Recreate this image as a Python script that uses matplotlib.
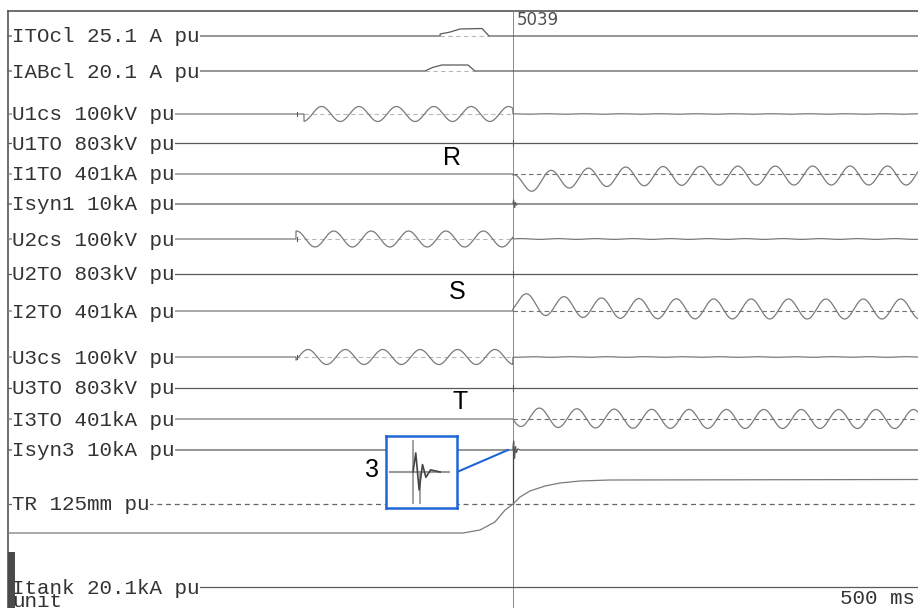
import numpy as np
import matplotlib.pyplot as plt

# channel names printed on the recorder strip, top to bottom
labels = ["ITOcl 25.1 A pu", "IABcl 20.1 A pu", "U1cs 100kV pu", "U1TO 803kV pu",
          "I1TO 401kA pu", "Isyn1 10kA pu", "U2cs 100kV pu", "U2TO 803kV pu",
          "I2TO 401kA pu", "U3cs 100kV pu", "U3TO 803kV pu", "I3TO 401kA pu",
          "Isyn3 10kA pu", "TR 125mm pu", "Itank 20.1kA pu"]

t_cursor = 270.0     # ms, marker 5039
t_end = 486.6        # ms, right edge of the strip
period = 20.0        # ms (50 Hz)

# closing coil currents (ms / trace units)
itocl_t = [0, 231.1, 231.1, 236.5, 241.7, 253.5, 257.2, t_end]
itocl_v = [0, 0, 2.0, 4.0, 7.0, 7.5, 0, 0]
iabcl_t = [0, 223.0, 227.0, 232.0, 246.0, 249.7, t_end]
iabcl_v = [0, 0, 3.5, 6.0, 6.0, 0, 0]

# source voltages U1cs, U2cs, U3cs
u_on = [158.3, 154.0, 154.0]
u_amp = [7.5, 8.0, 7.5]
u_peak = [167.7, 174.2, 160.4]
u_resid = [0.25, 0.4, 0.3]

# breaker currents I1TO, I2TO, I3TO after the cursor
i_amp = [9.5, 10.0, 9.5]
i_peak = [330.3, 277.4, 284.2]
i_off = [-1.5, 2.0, 0.0]
i_dc = [-9.0, 7.0, 2.3]
i_tau = [28.0, 25.0, 30.0]

# synthesis currents spikes at the cursor
isyn_t = [270.0, 270.4, 270.9, 271.4, 271.9, 272.6, 274.0]
isyn1_v = [0, 4.0, -3.5, 1.5, -1.0, 0.3, 0]
isyn3_v = [0, 9.0, -8.5, 3.5, -2.5, 1.0, 0]

# contact travel
tr_t = [0, 243.3, 252.4, 260.4, 265.8, 270.1, 273.8, 279.1, 287.2, 295.2, 305.9, 321.9, t_end]
tr_v = [-29, -29, -26, -18, -6, 0, 7, 13, 18, 21, 23, 24, 24.5]

# baseline of each channel on the strip (pixel rows)
base_y = [36, 71, 114, 143, 174, 204, 239, 274, 311, 357, 388, 419, 450, 504, 587]

PX = 1.87  # px per ms


def tx(px):
    return (px - 8) / PX


fig = plt.figure(figsize=(9.18, 6.08), dpi=100)
ax = fig.add_axes([0, 0, 1, 1])
ax.set_xlim(tx(0), tx(918))
ax.set_ylim(608, 0)
ax.axis('off')

trace = '#7a7a7a'
dark = '#5a5a5a'
light = '#b8b8b8'
lw = 0.9

mono = dict(family='Liberation Mono', fontsize=15, color='#333333')

# frame
ax.plot([0, t_end], [11, 11], color='#555555', lw=1.2)
ax.plot([0, 0], [11, 608], color='#555555', lw=1.2)
ax.add_patch(plt.Rectangle((0, 552), tx(15), 56, color='#4a4a4a', lw=0, zorder=6))

# cursor
ax.plot([t_cursor, t_cursor], [11, 608], color='#888888', lw=0.7)
ax.plot([t_cursor, t_cursor], [443, 504], color='#444444', lw=0.9)
ax.text(tx(517), 20, "5039", family='DejaVu Sans', fontsize=12, color='#505050',
        va='center', ha='left')

t = np.linspace(0, t_end, 6000)

# closing coils
for k, (ct, cv) in enumerate([(itocl_t, itocl_v), (iabcl_t, iabcl_v)]):
    y0 = base_y[k]
    ax.plot([ct[1], ct[-2]], [y0, y0], color=light, lw=0.8, ls=(0, (4, 3)))
    ax.plot(ct, y0 - np.array(cv), color=dark, lw=lw)

# voltages
for j, k in enumerate([2, 6, 9]):
    y0 = base_y[k]
    ph = 2 * np.pi * (t - u_peak[j]) / period
    v = np.where(t < u_on[j], 0.0, u_amp[j] * np.cos(ph))
    v = np.where(t >= t_cursor, u_resid[j] * np.cos(ph), v)
    ax.plot([u_on[j], t_cursor], [y0, y0], color=light, lw=0.8, ls=(0, (4, 3)))
    ax.plot(t, y0 - v, color=trace, lw=lw)
    ax.plot([tx(297), tx(297)], [y0 - 2, y0 + 2], color=dark, lw=0.8)

# flat channels
for k in [3, 7, 10]:
    ax.plot([0, t_end], [base_y[k], base_y[k]], color=dark, lw=lw)
    ax.plot([t_cursor, t_cursor], [base_y[k] - 3, base_y[k] + 3], color=dark, lw=0.8)

# breaker currents
for j, k in enumerate([4, 8, 11]):
    y0 = base_y[k]
    ph = 2 * np.pi * (t - i_peak[j]) / period
    dc = i_dc[j] * np.exp(-(t - t_cursor) / i_tau[j])
    v = np.where(t < t_cursor, 0.0, i_amp[j] * np.cos(ph) + i_off[j] + dc)
    ax.plot([t_cursor, t_end], [y0, y0], color='#707070', lw=0.8, ls=(0, (4, 3)))
    ax.plot(t, y0 - v, color=trace, lw=lw)

# synthesis currents
for k, sv in [(5, isyn1_v), (12, isyn3_v)]:
    y0 = base_y[k]
    st = [0] + isyn_t + [t_end]
    ax.plot(st, y0 - np.array([0] + sv + [0]), color=dark, lw=lw)

# travel
ax.plot([0, t_end], [504, 504], color='#666666', lw=0.9, ls=(0, (4, 3)))
ax.plot(tr_t, 504 - np.array(tr_v), color=trace, lw=lw)

# tank current
ax.plot([0, t_end], [587, 587], color=dark, lw=lw)

# channel labels
for k, lab in enumerate(labels):
    ax.text(tx(12), base_y[k] + 6.5, lab, va='baseline', ha='left', zorder=5,
            bbox=dict(facecolor='white', edgecolor='none', pad=0.3), **mono)
ax.text(tx(12), 607, "unit", va='baseline', ha='left', zorder=7, **mono)
ax.text(tx(840), 604, "500 ms", va='baseline', ha='left', **mono)

# phase letters
sans = dict(family='Liberation Sans', fontsize=18, color='black', ha='center', va='center')
ax.text(tx(452), 158, "R", **sans)
ax.text(tx(457), 292, "S", **sans)
ax.text(tx(460), 402, "T", **sans)
ax.text(tx(372), 470, "3", **sans)

# zoom of the Isyn3 spike
blue = '#1f66d6'
ax.plot([tx(457), tx(508)], [472, 450], color=blue, lw=1.5)
ins = fig.add_axes([386 / 918, 1 - 508 / 608, 71 / 918, 72 / 608])
ins.set_xlim(266.0, 276.5)
ins.set_ylim(-17, 17)
ins.set_xticks([])
ins.set_yticks([])
for s in ins.spines.values():
    s.set_color(blue)
    s.set_linewidth(1.8)
ins.plot([266.6, 275.3], [0, 0], color='#999999', lw=1.5)
ins.plot([t_cursor, t_cursor], [-14.6, 14.6], color='#999999', lw=1.3)
ins.plot([271.05, 271.05], [-0.9, -14.6], color='#999999', lw=1.3)
ins.plot(isyn_t, isyn3_v, color='#444444', lw=1.2)

fig.savefig('out.png', dpi=100)
